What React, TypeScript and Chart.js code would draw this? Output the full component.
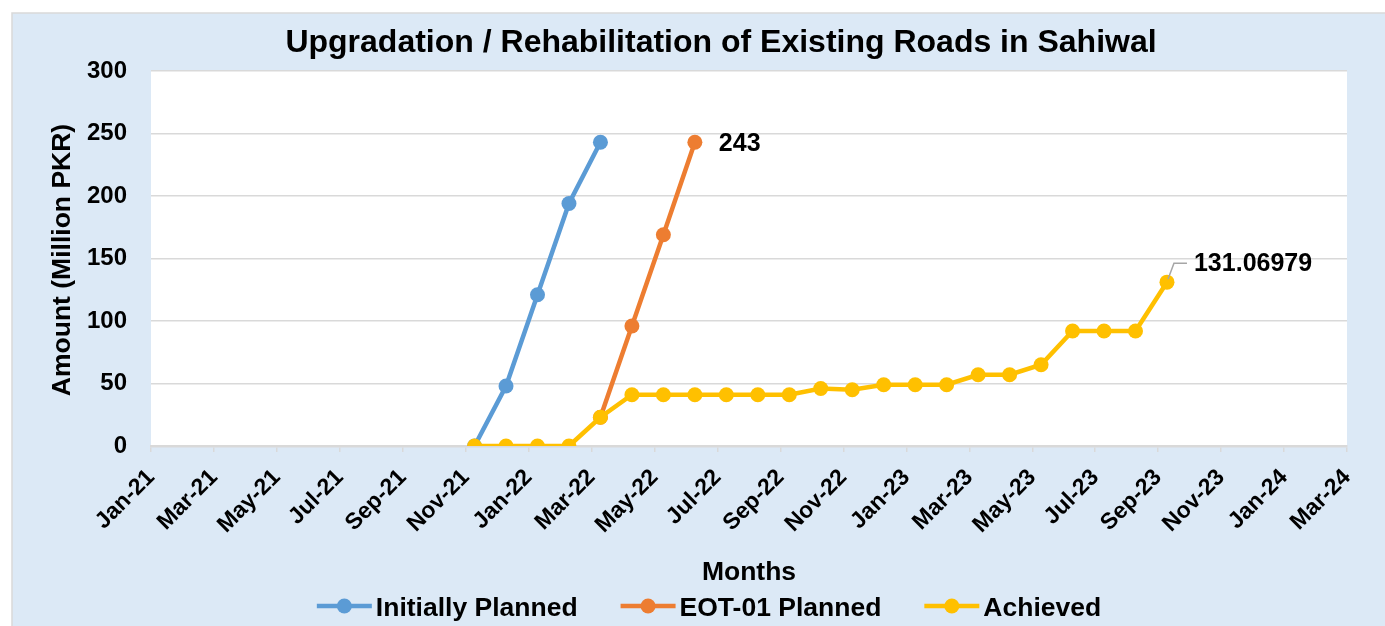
import React, { useEffect, useRef } from 'react';
import { Chart, registerables } from 'chart.js';

Chart.register(...registerables);

// ---- data ----
const chartTitle = 'Upgradation / Rehabilitation of Existing Roads in Sahiwal';
const xAxisTitle = 'Months';
const yAxisTitle = 'Amount (Million PKR)';

const tickLabels = [
  'Jan-21', 'Mar-21', 'May-21', 'Jul-21', 'Sep-21', 'Nov-21', 'Jan-22', 'Mar-22', 'May-22', 'Jul-22',
  'Sep-22', 'Nov-22', 'Jan-23', 'Mar-23', 'May-23', 'Jul-23', 'Sep-23', 'Nov-23', 'Jan-24', 'Mar-24',
];
const yTicks = [0, 50, 100, 150, 200, 250, 300];

const seriesNames = ['Initially Planned', 'EOT-01 Planned', 'Achieved'];
const seriesColors = ['#5B9BD5', '#ED7D31', '#FFC000'];

// Initially Planned: Nov-21 .. Mar-22
const initiallyPlannedStart = 'Nov-21';
const initiallyPlanned = [0, 48, 121, 194, 243];

// EOT-01 Planned: Mar-22 .. Jun-22
const eotPlannedStart = 'Mar-22';
const eotPlanned = [23, 96, 169, 243];

// Achieved: Nov-21 .. Sep-23
const achievedStart = 'Nov-21';
const achieved = [
  0, 0, 0, 0, 23, 41, 41, 41, 41, 41, 41, 46, 45, 49, 49, 49, 57, 57, 65, 92, 92, 92, 131.06979,
];

// ---- helpers / style ----
const MONTHS = ['Jan', 'Feb', 'Mar', 'Apr', 'May', 'Jun', 'Jul', 'Aug', 'Sep', 'Oct', 'Nov', 'Dec'];
const monthIndex = (label: string) => {
  const [m, y] = label.split('-');
  return MONTHS.indexOf(m) + (parseInt(y, 10) - 21) * 12;
};
const POINT_OFFSET = 0.28; // points sit a little after the month tick
const toPoints = (start: string, values: number[]) =>
  values.map((v, i) => ({ x: monthIndex(start) + i + POINT_OFFSET, y: v }));

const FONT = "'Liberation Sans', Arial, sans-serif";
const BG = '#dce9f6';
const GRID = '#d9d9d9';

const decor = {
  id: 'decor',
  beforeDraw(chart: any) {
    const { ctx, chartArea: a, width, height } = chart;
    ctx.save();
    ctx.fillStyle = '#ffffff';
    ctx.fillRect(0, 0, width, height);
    ctx.fillStyle = BG;
    ctx.fillRect(12, 13, width - 12, height - 13);
    ctx.strokeStyle = GRID;
    ctx.lineWidth = 1.5;
    ctx.strokeRect(12, 13, width + 10, height + 10);
    ctx.fillStyle = '#ffffff';
    ctx.fillRect(a.left, a.top, a.right - a.left, a.bottom - a.top);
    ctx.restore();
  },
  afterDatasetsDraw(chart: any) {
    const { ctx } = chart;
    ctx.save();
    ctx.fillStyle = '#000';
    ctx.font = `bold 25px ${FONT}`;
    ctx.textBaseline = 'middle';
    ctx.textAlign = 'left';
    // EOT-01 last value label
    const eMeta = chart.getDatasetMeta(1);
    const eLast = eMeta.data[eMeta.data.length - 1];
    ctx.fillText(String(eotPlanned[eotPlanned.length - 1]), eLast.x + 24, eLast.y + 2);
    // Achieved last value label with leader line
    const aMeta = chart.getDatasetMeta(2);
    const aLast = aMeta.data[aMeta.data.length - 1];
    ctx.strokeStyle = '#a6a6a6';
    ctx.lineWidth = 1.5;
    ctx.beginPath();
    ctx.moveTo(aLast.x + 1, aLast.y - 3);
    ctx.lineTo(aLast.x + 7, aLast.y - 19);
    ctx.lineTo(aLast.x + 20, aLast.y - 19);
    ctx.stroke();
    ctx.fillText(String(achieved[achieved.length - 1]), aLast.x + 27, aLast.y - 18);
    ctx.restore();
  },
  afterDraw(chart: any) {
    const { ctx, chartArea: a } = chart;
    ctx.save();
    ctx.fillStyle = '#000';
    // title
    ctx.font = `bold 32px ${FONT}`;
    ctx.textAlign = 'center';
    ctx.textBaseline = 'alphabetic';
    ctx.fillText(chartTitle, 721, 52);
    // x axis title
    ctx.font = `bold 26.5px ${FONT}`;
    ctx.fillText(xAxisTitle, (a.left + a.right) / 2, 580);
    // y axis title
    ctx.save();
    ctx.translate(63, 260);
    ctx.rotate(-Math.PI / 2);
    ctx.textBaseline = 'middle';
    ctx.fillText(yAxisTitle, 0, 0);
    ctx.restore();
    // legend
    ctx.font = `bold 26.5px ${FONT}`;
    const lineLen = 55;
    const gapText = 4;
    const gapItem = 43;
    const widths = seriesNames.map((n) => ctx.measureText(n).width);
    const total = widths.reduce((s, w) => s + lineLen + gapText + w, 0) + gapItem * (seriesNames.length - 1);
    let x = 709 - total / 2;
    const ly = 606;
    seriesNames.forEach((name, i) => {
      ctx.strokeStyle = seriesColors[i];
      ctx.lineWidth = 4.5;
      ctx.beginPath();
      ctx.moveTo(x, ly);
      ctx.lineTo(x + lineLen, ly);
      ctx.stroke();
      ctx.fillStyle = seriesColors[i];
      ctx.beginPath();
      ctx.arc(x + lineLen / 2, ly, 7.5, 0, Math.PI * 2);
      ctx.fill();
      ctx.fillStyle = '#000';
      ctx.textAlign = 'left';
      ctx.textBaseline = 'alphabetic';
      ctx.fillText(name, x + lineLen + gapText, ly + 10);
      x += lineLen + gapText + widths[i] + gapItem;
    });
    ctx.restore();
  },
};

export default function App() {
  const canvasRef = useRef<HTMLCanvasElement | null>(null);

  useEffect(() => {
    document.body.style.margin = '0';
    const canvas = canvasRef.current;
    if (!canvas) return;

    const mkDataset = (i: number, data: { x: number; y: number }[], order: number) => ({
      label: seriesNames[i],
      data,
      borderColor: seriesColors[i],
      backgroundColor: seriesColors[i],
      pointBackgroundColor: seriesColors[i],
      pointBorderColor: seriesColors[i],
      borderWidth: 4.5,
      pointRadius: 7.5,
      pointHoverRadius: 7.5,
      pointBorderWidth: 0,
      tension: 0,
      order,
    });

    const chart = new Chart(canvas, {
      type: 'line',
      data: {
        datasets: [
          mkDataset(0, toPoints(initiallyPlannedStart, initiallyPlanned), 2),
          mkDataset(1, toPoints(eotPlannedStart, eotPlanned), 1),
          mkDataset(2, toPoints(achievedStart, achieved), 0),
        ],
      },
      options: {
        responsive: false,
        animation: false,
        events: [],
        layout: { padding: { left: 0, right: 38, top: 71, bottom: 0 } },
        plugins: {
          legend: { display: false },
          title: { display: false },
          tooltip: { enabled: false },
        },
        scales: {
          x: {
            type: 'linear',
            min: monthIndex(tickLabels[0]),
            max: monthIndex(tickLabels[tickLabels.length - 1]),
            afterBuildTicks: (scale: any) => {
              scale.ticks = tickLabels.map((l) => ({ value: monthIndex(l) }));
            },
            afterFit: (scale: any) => {
              scale.height = 180;
            },
            ticks: {
              autoSkip: false,
              maxRotation: 45,
              minRotation: 45,
              padding: 12,
              color: '#000',
              font: { family: FONT, size: 23, weight: 'bold' },
              callback: (v: any) => {
                const l = tickLabels.find((t) => monthIndex(t) === v);
                return l ?? '';
              },
            },
            grid: {
              drawOnChartArea: false,
              drawTicks: true,
              tickLength: 6,
              color: GRID,
              lineWidth: 1.5,
            },
            border: { display: true, color: GRID, width: 2.5 },
          },
          y: {
            min: yTicks[0],
            max: yTicks[yTicks.length - 1],
            afterBuildTicks: (scale: any) => {
              scale.ticks = yTicks.map((v) => ({ value: v }));
            },
            afterFit: (scale: any) => {
              scale.width = 151;
            },
            ticks: {
              padding: 24,
              color: '#000',
              font: { family: FONT, size: 24, weight: 'bold' },
            },
            grid: { color: GRID, lineWidth: 1.5, drawTicks: false },
            border: { display: false },
          },
        },
      },
      plugins: [decor],
    } as any);

    return () => chart.destroy();
  }, []);

  return (
    <canvas
      ref={canvasRef}
      width={1385}
      height={626}
      style={{ display: 'block', width: '1385px', height: '626px' }}
    />
  );
}
